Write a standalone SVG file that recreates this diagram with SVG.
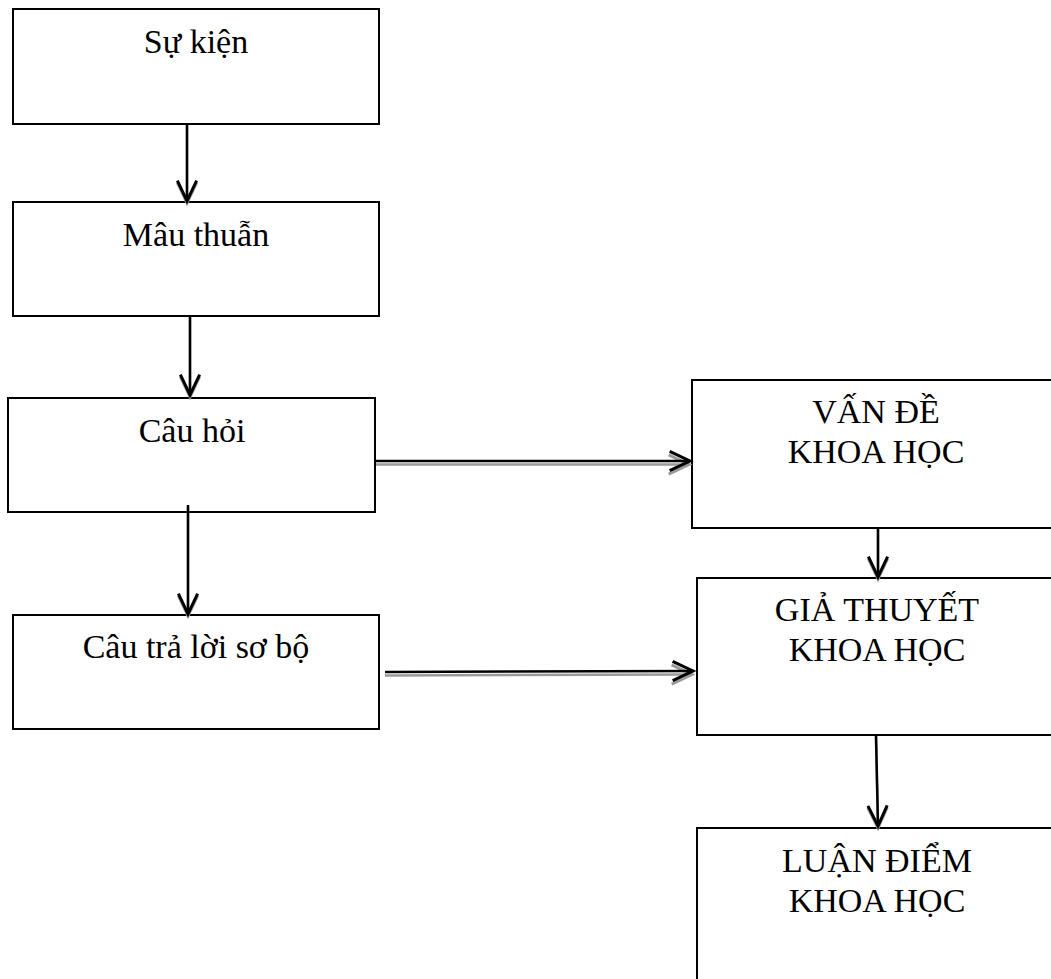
<svg xmlns="http://www.w3.org/2000/svg" width="1051" height="979" viewBox="0 0 1051 979">
<style>
.box{fill:#fff;stroke:#000;stroke-width:2}
.t{font-family:"Liberation Serif","Times New Roman",serif;font-size:34px;fill:#000;text-anchor:middle}
.ln{stroke:#000;stroke-width:2.5;fill:none}
.sh{stroke:#9a9a9a;stroke-width:2.5;fill:none}
</style>
<defs>
<marker id="a" markerUnits="userSpaceOnUse" markerWidth="30" markerHeight="30" viewBox="-24 -12 28 24" refX="0" refY="0" orient="auto">
<path d="M-19,-9 L0,0 L-19,9" fill="none" stroke="#000" stroke-width="2.8"/>
</marker>
<marker id="s" markerUnits="userSpaceOnUse" markerWidth="30" markerHeight="30" viewBox="-24 -12 28 24" refX="0" refY="0" orient="auto">
<path d="M-19,-9 L0,0 L-19,9" fill="none" stroke="#9a9a9a" stroke-width="2.8"/>
</marker>
</defs>
<rect width="1051" height="979" fill="#fff"/>
<g id="n1"><rect class="box" x="13" y="9" width="366" height="115"/><text class="t" x="196" y="53">Sự kiện</text></g>
<g id="n2"><rect class="box" x="13" y="202" width="366" height="114"/><text class="t" x="196" y="246">Mâu thuẫn</text></g>
<g id="n3"><rect class="box" x="8" y="398" width="367" height="114"/><text class="t" x="192" y="442">Câu hỏi</text></g>
<g id="n4"><rect class="box" x="13" y="615" width="366" height="114"/><text class="t" x="196" y="658">Câu trả lời sơ bộ</text></g>
<g id="n5"><rect class="box" x="692" y="380" width="370" height="148"/><text class="t" x="876" y="423">VẤN ĐỀ</text><text class="t" x="876" y="463">KHOA HỌC</text></g>
<g id="n6"><rect class="box" x="697" y="578" width="370" height="157"/><text class="t" x="877" y="621">GIẢ THUYẾT</text><text class="t" x="877" y="661">KHOA HỌC</text></g>
<g id="n7"><rect class="box" x="697" y="828" width="370" height="170"/><text class="t" x="877" y="872">LUẬN ĐIỂM</text><text class="t" x="877" y="912">KHOA HỌC</text></g>
<g id="connectors">
<line class="sh" x1="187" y1="126" x2="187" y2="203" marker-end="url(#s)"/>
<line class="ln" x1="187" y1="124" x2="187" y2="201" marker-end="url(#a)"/>
<line class="sh" x1="190" y1="318" x2="190" y2="397" marker-end="url(#s)"/>
<line class="ln" x1="190" y1="316" x2="190" y2="395" marker-end="url(#a)"/>
<line class="sh" x1="188" y1="507" x2="188" y2="616" marker-end="url(#s)"/>
<line class="ln" x1="188" y1="505" x2="188" y2="614" marker-end="url(#a)"/>
<line class="sh" x1="376" y1="464.5" x2="689" y2="464.5" marker-end="url(#s)"/>
<line class="ln" x1="376" y1="461" x2="690" y2="461" marker-end="url(#a)"/>
<line class="sh" x1="385" y1="675.5" x2="692" y2="674.5" marker-end="url(#s)"/>
<line class="ln" x1="385" y1="672" x2="693" y2="671" marker-end="url(#a)"/>
<line class="sh" x1="878" y1="530" x2="878" y2="579" marker-end="url(#s)"/>
<line class="ln" x1="878" y1="528" x2="878" y2="577" marker-end="url(#a)"/>
<line class="sh" x1="876" y1="737" x2="878" y2="828" marker-end="url(#s)"/>
<line class="ln" x1="876" y1="735" x2="878" y2="826" marker-end="url(#a)"/>
</g>
</svg>
